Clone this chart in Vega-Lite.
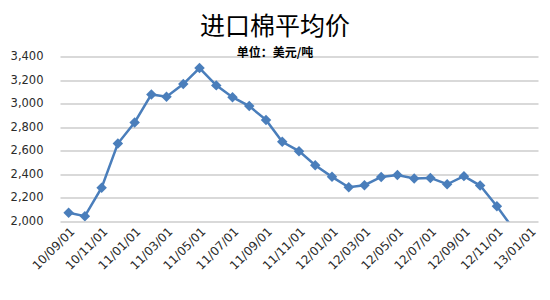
{
  "$schema": "https://vega.github.io/schema/vega-lite/v6.json",
  "autosize": {"type": "none"},
  "width": 478,
  "height": 165,
  "padding": {"left": 60, "top": 56.5, "right": 12, "bottom": 78.5},
  "background": "white",
  "title": {
    "text": "进口棉平均价",
    "subtitle": "单位：美元/吨",
    "anchor": "middle",
    "dx": -24,
    "offset": -8,
    "font": "Noto Sans CJK SC",
    "fontSize": 25,
    "fontWeight": "normal",
    "color": "#000000",
    "subtitleFont": "Noto Sans CJK SC",
    "subtitleFontSize": 12,
    "subtitleFontWeight": "bold",
    "subtitleColor": "#000000",
    "subtitlePadding": 8
  },
  "data": {
    "values": [
      {"date": "2010/09/01", "price": 2074},
      {"date": "2010/10/01", "price": 2045},
      {"date": "2010/11/01", "price": 2287},
      {"date": "2010/12/01", "price": 2661},
      {"date": "2011/01/01", "price": 2840},
      {"date": "2011/02/01", "price": 3078},
      {"date": "2011/03/01", "price": 3058},
      {"date": "2011/04/01", "price": 3166},
      {"date": "2011/05/01", "price": 3302},
      {"date": "2011/06/01", "price": 3155},
      {"date": "2011/07/01", "price": 3055},
      {"date": "2011/08/01", "price": 2979},
      {"date": "2011/09/01", "price": 2862},
      {"date": "2011/10/01", "price": 2676},
      {"date": "2011/11/01", "price": 2597},
      {"date": "2011/12/01", "price": 2477},
      {"date": "2012/01/01", "price": 2379},
      {"date": "2012/02/01", "price": 2290},
      {"date": "2012/03/01", "price": 2308},
      {"date": "2012/04/01", "price": 2378},
      {"date": "2012/05/01", "price": 2394},
      {"date": "2012/06/01", "price": 2365},
      {"date": "2012/07/01", "price": 2370},
      {"date": "2012/08/01", "price": 2316},
      {"date": "2012/09/01", "price": 2385},
      {"date": "2012/10/01", "price": 2305},
      {"date": "2012/11/01", "price": 2129},
      {"date": "2012/12/01", "price": 1940}
    ]
  },
  "encoding": {
    "x": {
      "field": "date",
      "type": "temporal",
      "scale": {
        "domain": [
          {"year": 2010, "month": 8, "date": 16},
          {"year": 2013, "month": 1, "date": 16}
        ]
      },
      "axis": {
        "title": null,
        "format": "%y/%m/%d",
        "values": [
          {"year": 2010, "month": 9, "date": 1},
          {"year": 2010, "month": 11, "date": 1},
          {"year": 2011, "month": 1, "date": 1},
          {"year": 2011, "month": 3, "date": 1},
          {"year": 2011, "month": 5, "date": 1},
          {"year": 2011, "month": 7, "date": 1},
          {"year": 2011, "month": 9, "date": 1},
          {"year": 2011, "month": 11, "date": 1},
          {"year": 2012, "month": 1, "date": 1},
          {"year": 2012, "month": 3, "date": 1},
          {"year": 2012, "month": 5, "date": 1},
          {"year": 2012, "month": 7, "date": 1},
          {"year": 2012, "month": 9, "date": 1},
          {"year": 2012, "month": 11, "date": 1},
          {"year": 2013, "month": 1, "date": 1}
        ],
        "labelAngle": -45,
        "labelAlign": "right",
        "labelBaseline": "top",
        "labelPadding": 4,
        "labelFont": "DejaVu Sans",
        "labelFontSize": 12,
        "labelColor": "#2b2b2b",
        "labelOverlap": false,
        "labelFlush": false,
        "ticks": false,
        "domain": false,
        "grid": false
      }
    },
    "y": {
      "field": "price",
      "type": "quantitative",
      "scale": {"domain": [2000, 3400], "nice": false, "zero": false},
      "axis": {
        "title": null,
        "values": [2000, 2200, 2400, 2600, 2800, 3000, 3200, 3400],
        "format": ",d",
        "labelFont": "DejaVu Sans",
        "labelFontSize": 11.5,
        "labelColor": "#2b2b2b",
        "labelPadding": 17,
        "ticks": false,
        "domain": false,
        "grid": true,
        "gridColor": "#b4b4b4",
        "gridWidth": 1.2
      }
    }
  },
  "layer": [
    {
      "mark": {"type": "line", "color": "#4a7ebb", "strokeWidth": 2.5, "clip": true}
    },
    {
      "mark": {"type": "point", "shape": "diamond", "filled": true, "size": 110, "color": "#4a7ebb", "opacity": 1, "clip": true}
    }
  ],
  "config": {
    "view": {"stroke": null}
  }
}
